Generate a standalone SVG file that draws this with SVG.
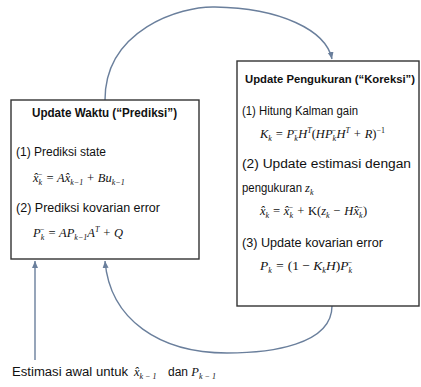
<svg xmlns="http://www.w3.org/2000/svg" width="421" height="387" viewBox="0 0 421 387">
<defs>
<marker id="ah" markerUnits="userSpaceOnUse" markerWidth="8" markerHeight="8" viewBox="0 0 8 8" refX="7" refY="4" orient="auto">
<path d="M0,1 L7,4 L0,7 Z" fill="#6a7f9c"/>
</marker>
<style>
.box{fill:#fff;stroke:#333;stroke-width:1.4}
.t{font-family:"Liberation Sans",Arial,sans-serif;font-size:12px;fill:#111}
.b{font-weight:bold}
.m{font-family:"Liberation Serif","Times New Roman",serif;font-style:italic;font-size:12.5px;fill:#111}
.u{font-style:normal}
.s{font-size:8px}
.c{fill:none;stroke:#6a7f9c;stroke-width:1.4}
</style>
</defs>
<rect width="421" height="387" fill="#fff"/>
<g id="connectors">
<path class="c" d="M105,100 C105,30 180,6 215,7 C280,8 326,30 332,59" marker-end="url(#ah)"/>
<path class="c" d="M332,306 C332,345 270,353 227,353 C160,353 110,320 105,261" marker-end="url(#ah)"/>
<path class="c" d="M35,360 L35,261" marker-end="url(#ah)"/>
</g>
<g id="node-prediksi">
<rect class="box" x="11" y="100" width="188" height="159"/>
<text class="t b" x="104.5" y="117" text-anchor="middle" textLength="145" lengthAdjust="spacingAndGlyphs">Update Waktu (“Prediksi”)</text>
<text class="t" x="16" y="156" textLength="90" lengthAdjust="spacingAndGlyphs">(1) Prediksi state</text>
<text class="m" x="33" y="182">x̂<tspan class="s" dy="3">k</tspan><tspan class="s" dx="-5" dy="-8">−</tspan><tspan dy="5"> = A</tspan>x̂<tspan class="s" dy="3">k−1</tspan><tspan dy="-3"> + Bu</tspan><tspan class="s" dy="3">k−1</tspan></text>
<text class="t" x="16" y="212" textLength="144" lengthAdjust="spacingAndGlyphs">(2) Prediksi kovarian error</text>
<text class="m" x="33" y="237">P<tspan class="s" dy="3">k</tspan><tspan class="s" dx="-5" dy="-8">−</tspan><tspan dy="5"> = AP</tspan><tspan class="s" dy="3">k−1</tspan><tspan dy="-3">A</tspan><tspan class="s" dy="-5">T</tspan><tspan dy="5"> + Q</tspan></text>
</g>
<g id="node-koreksi">
<rect class="box" x="237" y="61" width="182" height="245"/>
<text class="t b" x="245" y="83" style="font-size:11px" textLength="170" lengthAdjust="spacingAndGlyphs">Update Pengukuran (“Koreksi”)</text>
<text class="t" x="242" y="115" textLength="116" lengthAdjust="spacingAndGlyphs">(1) Hitung Kalman gain</text>
<text class="m" x="260" y="138">K<tspan class="s" dy="3">k</tspan><tspan dy="-3"> = P</tspan><tspan class="s" dy="3">k</tspan><tspan class="s" dx="-5" dy="-8">−</tspan><tspan dy="5">H</tspan><tspan class="s" dy="-5">T</tspan><tspan class="u" dy="5">(</tspan>HP<tspan class="s" dy="3">k</tspan><tspan class="s" dx="-5" dy="-8">−</tspan><tspan dy="5">H</tspan><tspan class="s" dy="-5">T</tspan><tspan dy="5"> + R</tspan><tspan class="u">)</tspan><tspan class="s u" dy="-5">−1</tspan></text>
<text class="t" x="242" y="168" textLength="169" lengthAdjust="spacingAndGlyphs">(2) Update estimasi dengan</text>
<text class="t" x="242" y="192"><tspan textLength="60" lengthAdjust="spacingAndGlyphs">pengukuran</tspan><tspan class="m" x="305">z</tspan><tspan class="m s" dy="3">k</tspan></text>
<text class="m" x="260" y="215">x̂<tspan class="s" dy="3">k</tspan><tspan dy="-3"> = </tspan>x̂<tspan class="s" dy="3">k</tspan><tspan class="s" dx="-5" dy="-8">−</tspan><tspan dy="5"> + </tspan><tspan class="u">K(</tspan>z<tspan class="s" dy="3">k</tspan><tspan dy="-3"> − H</tspan>x̂<tspan class="s" dy="3">k</tspan><tspan class="s" dx="-5" dy="-8">−</tspan><tspan class="u" dy="5">)</tspan></text>
<text class="t" x="242" y="247" textLength="141" lengthAdjust="spacingAndGlyphs">(3) Update kovarian error</text>
<text class="m" x="260" y="270" style="font-size:13.5px">P<tspan class="s" dy="3">k</tspan><tspan dy="-3"> = </tspan><tspan class="u">(1 − </tspan>K<tspan class="s" dy="3">k</tspan><tspan dy="-3">H</tspan><tspan class="u">)</tspan>P<tspan class="s" dy="3">k</tspan><tspan class="s" dx="-5" dy="-8">−</tspan></text>
</g>
<g id="label-awal">
<text class="t" x="12" y="376"><tspan textLength="116" lengthAdjust="spacingAndGlyphs">Estimasi awal untuk</tspan><tspan class="m" x="134">x̂</tspan><tspan class="m s" dy="3">k − 1</tspan><tspan x="168" dy="-3">dan </tspan><tspan class="m">P</tspan><tspan class="m s" dy="3">k − 1</tspan></text>
</g>
</svg>
